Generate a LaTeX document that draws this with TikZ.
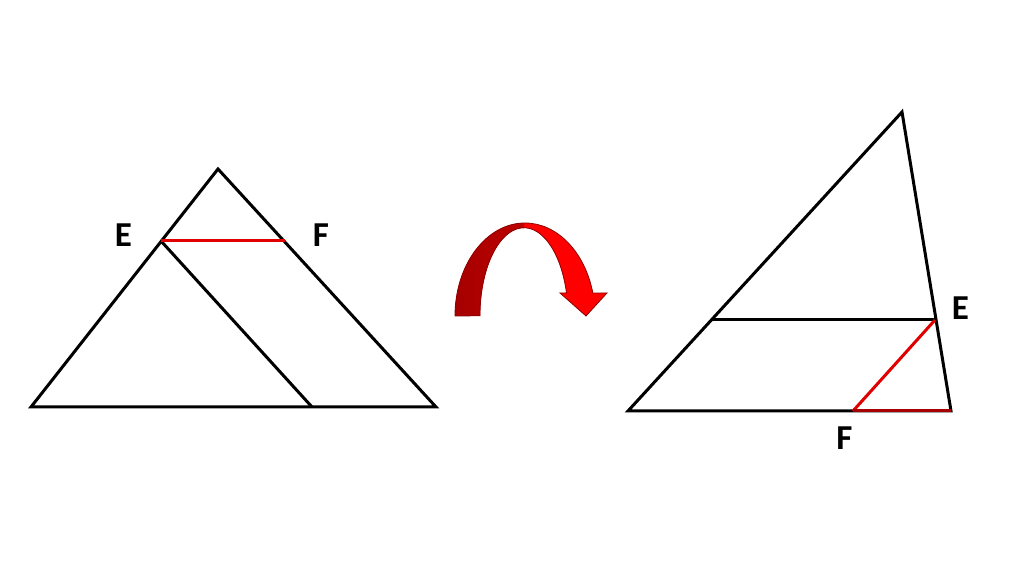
\documentclass[tikz,border=0pt]{standalone}
\usepackage{fontspec}
\setmainfont{Carlito}
\usepackage{tikz}
\usetikzlibrary{calc}
\begin{document}
\begin{tikzpicture}[x=0.5pt,y=0.5pt,line width=1.5pt,line join=miter,
  lbl/.style={font=\fontsize{17.5}{20}\selectfont\bfseries,inner sep=0pt}]
\useasboundingbox(0,0)rectangle(1024,576);
% triangle de gauche
\coordinate(A)at(218,407);\coordinate(B)at(31,169);\coordinate(C)at(436,169);
\coordinate(E)at(161,335);\coordinate(F)at(285,335);\coordinate(G)at(312,169);
\draw(B)--(A)--(C)--cycle;
\draw(E)--(G);
\draw[red!88!black](E)--(F);
\node[lbl](lE)at(123.5,340.5){E};
\node[lbl](lF)at(321,341){F};
% fleche courbe
\def\arrowpath{(455,260)arc[start angle=180,end angle=14.3,x radius=70,y radius=93]
  --(607,283)--(586,260)--(560,283)--(566.5,283)
  arc[start angle=15,end angle=180,x radius=44,y radius=88]--cycle}
\fill[red]\arrowpath;
\begin{scope}
\clip(440,200)rectangle(524,380);
\shade[left color=red!65!black,right color=red!85!black]\arrowpath;
\end{scope}
\draw[red!55!black,line width=0.4pt]\arrowpath;
% triangle de droite
\coordinate(P)at(902,464);\coordinate(Q)at(628,165);\coordinate(R)at(951,165);
\coordinate(E2)at(935,256);\coordinate(H)at(712,256);\coordinate(F2)at(853,165);
\draw(Q)--(P)--(R)--cycle;
\draw(H)--(E2);
\draw[red!88!black](E2)--(F2);
\draw[red!65!black](F2)--(R);
\node[lbl](rE)at(960.5,267.5){E};
\node[lbl](rF)at(844.5,137.5){F};
\end{tikzpicture}
\end{document}
